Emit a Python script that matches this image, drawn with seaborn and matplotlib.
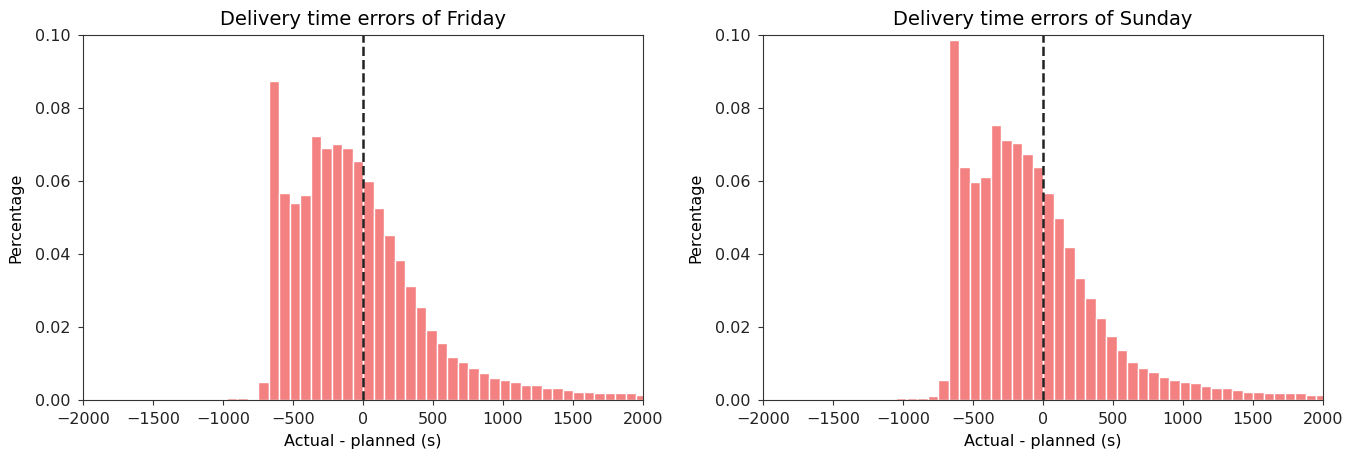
import numpy as np
import pandas as pd
import matplotlib
matplotlib.use("Agg")
import matplotlib.pyplot as plt
import seaborn as sns
from matplotlib.ticker import FormatStrFormatter

# ---- data (bin left edges in seconds, bin width 75 s) ----
bin_width = 75
friday_left = [-975, -900, -825, -750, -675, -600, -525, -450, -375, -300, -225, -150, -75,
               0, 75, 150, 225, 300, 375, 450, 525, 600, 675, 750, 825, 900, 975,
               1050, 1125, 1200, 1275, 1350, 1425, 1500, 1575, 1650, 1725, 1800, 1875, 1950]
friday_pct = [0.0005, 0.0005, 0.0004, 0.0048, 0.0874, 0.0568, 0.0540, 0.0563, 0.0723, 0.0691,
              0.0700, 0.0691, 0.0655,
              0.0600, 0.0525, 0.0452, 0.0383, 0.0313, 0.0254, 0.0192, 0.0156, 0.0119, 0.0105,
              0.0087, 0.0073, 0.0059, 0.0055, 0.0050, 0.0041, 0.0041, 0.0032, 0.0032, 0.0027,
              0.0023, 0.0023, 0.0018, 0.0018, 0.0018, 0.0018, 0.0014]

sunday_left = [-1050, -975, -900, -825, -750, -675, -600, -525, -450, -375, -300, -225, -150, -75,
               0, 75, 150, 225, 300, 375, 450, 525, 600, 675, 750, 825, 900, 975,
               1050, 1125, 1200, 1275, 1350, 1425, 1500, 1575, 1650, 1725, 1800, 1875, 1950]
sunday_pct = [0.0005, 0.0005, 0.0005, 0.0010, 0.0055, 0.0987, 0.0639, 0.0596, 0.0612, 0.0754,
              0.0712, 0.0703, 0.0674, 0.0639,
              0.0566, 0.0500, 0.0418, 0.0334, 0.0279, 0.0224, 0.0174, 0.0137, 0.0105, 0.0087,
              0.0078, 0.0062, 0.0055, 0.0050, 0.0046, 0.0037, 0.0032, 0.0032, 0.0027, 0.0023,
              0.0023, 0.0018, 0.0018, 0.0018, 0.0018, 0.0014, 0.0014]

titles = ["Delivery time errors of Friday", "Delivery time errors of Sunday"]
x_ticks = [-2000, -1500, -1000, -500, 0, 500, 1000, 1500, 2000]
y_ticks = [0.00, 0.02, 0.04, 0.06, 0.08, 0.10]

plt.rcParams["font.family"] = ["DejaVu Sans"]
plt.rcParams["font.size"] = 11.5

fig = plt.figure(figsize=(13.59, 4.57), dpi=100)
axes = [fig.add_axes([83 / 1359, 1 - 400 / 457, 560 / 1359, 365 / 457]),
        fig.add_axes([763 / 1359, 1 - 400 / 457, 560 / 1359, 365 / 457])]

for ax, lefts, pct, title in zip(axes, [friday_left, sunday_left],
                                 [friday_pct, sunday_pct], titles):
    df = pd.DataFrame({"center": np.array(lefts, dtype=float) + bin_width / 2,
                       "pct": np.array(pct, dtype=float)})
    sns.histplot(data=df, x="center", weights="pct", binwidth=bin_width,
                 binrange=(lefts[0], lefts[-1] + bin_width), ax=ax,
                 color="#f38181", edgecolor="white", linewidth=1.0, alpha=1.0)
    ax.axvline(0, color="#222222", linestyle="--", linewidth=1.8)
    ax.set_xlim(-2000, 2000)
    ax.set_ylim(0, 0.10)
    ax.set_xticks(x_ticks)
    ax.set_yticks(y_ticks)
    ax.yaxis.set_major_formatter(FormatStrFormatter("%.2f"))
    ax.set_title(title, fontsize=14, pad=7)
    ax.set_xlabel("Actual - planned (s)", fontsize=11.5, labelpad=5)
    ax.set_ylabel("Percentage", fontsize=11.5, labelpad=8)
    ax.tick_params(labelsize=11.5, pad=5.5, color="#333333", labelcolor="#222222")
    for s in ax.spines.values():
        s.set_color("#333333")

fig.savefig("out.png", dpi=100)
